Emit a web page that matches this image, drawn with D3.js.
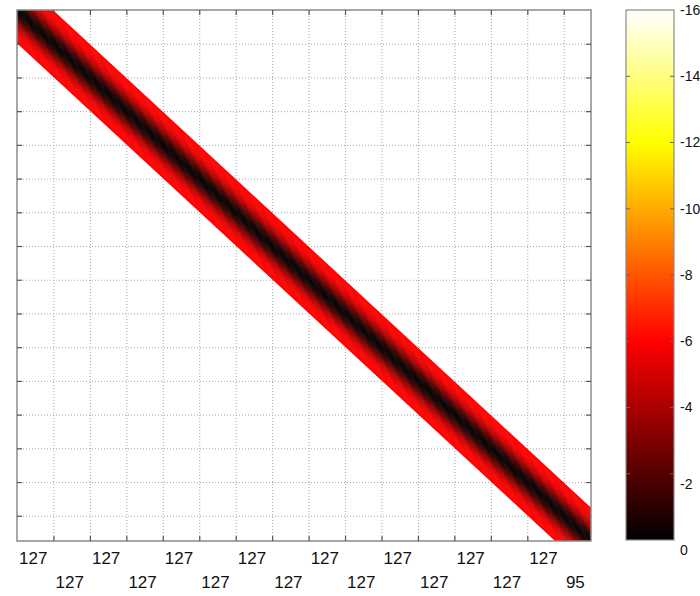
<!DOCTYPE html>
<html>
<head>
<meta charset="utf-8">
<script src="https://cdn.jsdelivr.net/npm/d3@7/dist/d3.min.js"></script>
<style>
  html, body { margin: 0; padding: 0; background: #fff; }
  svg { display: block; }
  text { font-family: "Liberation Sans", Arial, sans-serif; fill: #111; }
</style>
</head>
<body>
<svg id="chart" width="700" height="596"></svg>
<script>
// Block sizes along both matrix axes (the bottom labels show each block's length)
const blockSizes = [127, 127, 127, 127, 127, 127, 127, 127, 127, 127, 127, 127, 127, 127, 127, 95];

// Diagonal band: distance from the diagonal (edges of each strip) and the value in each strip
const bandEdges  = [0, 8, 16, 24, 32, 40, 48, 56, 64, 72, 80, 88, 96, 104, 112, 124];
const bandLevels = [-0.1, -0.4, -0.8, -1.3, -1.9, -2.6, -3.3, -4.0, -4.6, -5.1, -5.5, -5.8, -5.9, -6.0, -6.0];

// Colour bar ticks
const colorTicks = [0, -2, -4, -6, -8, -10, -12, -14, -16];
const colorTickNudge = { "0": 10, "-2": 10 };
const colorDomain = [0, -16];

const svg = d3.select("#chart");

const plot = { left: 17, top: 10, right: 591, bottom: 541 };
const n = d3.sum(blockSizes);

const x = d3.scaleLinear().domain([0, n]).range([plot.left, plot.right]);
const y = d3.scaleLinear().domain([0, n]).range([plot.top, plot.bottom]);

// MATLAB-style "hot" colormap
function hot(t) {
  t = Math.max(0, Math.min(1, t));
  const r = Math.min(1, t / 0.375);
  const g = Math.max(0, Math.min(1, (t - 0.375) / 0.375));
  const b = Math.max(0, Math.min(1, (t - 0.75) / 0.25));
  return d3.rgb(r * 255, g * 255, b * 255).toString();
}
const color = d3.scaleSequential(hot).domain(colorDomain);

// Block boundaries
const bounds = d3.cumsum(blockSizes);
const starts = [0, ...bounds.slice(0, -1)];
const inner = bounds.slice(0, -1);

// Soft edge for the band
const defs = svg.append("defs");
defs.append("clipPath").attr("id", "plotclip")
  .append("rect")
  .attr("x", plot.left).attr("y", plot.top)
  .attr("width", plot.right - plot.left).attr("height", plot.bottom - plot.top);
defs.append("filter").attr("id", "soft")
  .append("feGaussianBlur").attr("stdDeviation", 0.7);

// Dotted grid at block boundaries
const grid = svg.append("g")
  .attr("stroke", "#a8a8a8")
  .attr("stroke-width", 1)
  .attr("stroke-dasharray", "1,2");
grid.selectAll("line.v").data(inner).join("line")
  .attr("class", "v")
  .attr("x1", d => x(d) + 0.5).attr("x2", d => x(d) + 0.5)
  .attr("y1", plot.top).attr("y2", plot.bottom);
grid.selectAll("line.h").data(inner).join("line")
  .attr("class", "h")
  .attr("y1", d => y(d) + 0.5).attr("y2", d => y(d) + 0.5)
  .attr("x1", plot.left).attr("x2", plot.right);

// Band strips on both sides of the diagonal
const strips = bandLevels.map((v, i) => ({ a: bandEdges[i], b: bandEdges[i + 1], v }));
const band = svg.append("g").attr("clip-path", "url(#plotclip)")
  .append("g").attr("filter", "url(#soft)");
const poly = pts => pts.map(p => [x(p[0]), y(p[1])].join(",")).join(" ");
band.selectAll("polygon.upper").data(strips).join("polygon")
  .attr("class", "upper")
  .attr("points", d => poly([[d.a, 0], [d.b, 0], [n, n - d.b], [n, n - d.a]]))
  .attr("fill", d => color(d.v))
  .attr("stroke", d => color(d.v))
  .attr("stroke-width", 0.6);
band.selectAll("polygon.lower").data(strips).join("polygon")
  .attr("class", "lower")
  .attr("points", d => poly([[0, d.a], [0, d.b], [n - d.b, n], [n - d.a, n]]))
  .attr("fill", d => color(d.v))
  .attr("stroke", d => color(d.v))
  .attr("stroke-width", 0.6);

// Frame
svg.append("rect")
  .attr("x", plot.left).attr("y", plot.top)
  .attr("width", plot.right - plot.left).attr("height", plot.bottom - plot.top)
  .attr("fill", "none").attr("stroke", "#8a8a8a").attr("stroke-width", 1.5);

// Inward tick marks on all four sides
const tk = svg.append("g").attr("stroke", "#555").attr("stroke-width", 1.2);
const tl = 5;
tk.selectAll("line.b").data(inner).join("line").attr("class", "b")
  .attr("x1", d => x(d) + 0.5).attr("x2", d => x(d) + 0.5)
  .attr("y1", plot.bottom).attr("y2", plot.bottom - tl);
tk.selectAll("line.t").data(inner).join("line").attr("class", "t")
  .attr("x1", d => x(d) + 0.5).attr("x2", d => x(d) + 0.5)
  .attr("y1", plot.top).attr("y2", plot.top + tl);
tk.selectAll("line.l").data(inner).join("line").attr("class", "l")
  .attr("y1", d => y(d) + 0.5).attr("y2", d => y(d) + 0.5)
  .attr("x1", plot.left).attr("x2", plot.left + tl);
tk.selectAll("line.r").data(inner).join("line").attr("class", "r")
  .attr("y1", d => y(d) + 0.5).attr("y2", d => y(d) + 0.5)
  .attr("x1", plot.right).attr("x2", plot.right - tl);

// Block size labels, staggered over two rows
svg.append("g").selectAll("text").data(blockSizes).join("text")
  .attr("x", (d, i) => x(starts[i] + d / 2) - 2)
  .attr("y", (d, i) => i % 2 === 0 ? 564 : 588)
  .attr("text-anchor", "middle")
  .attr("font-size", 17)
  .text(d => d);

// Colour bar
const cb = { left: 626, right: 674, top: 10, bottom: 540 };
const cy = d3.scaleLinear().domain(colorDomain).range([cb.bottom, cb.top]);
const grad = defs.append("linearGradient").attr("id", "hotbar")
  .attr("x1", 0).attr("y1", 1).attr("x2", 0).attr("y2", 0);
grad.selectAll("stop").data(d3.range(0, 1.0001, 1 / 64)).join("stop")
  .attr("offset", d => d)
  .attr("stop-color", d => hot(d));
svg.append("rect")
  .attr("x", cb.left).attr("y", cb.top)
  .attr("width", cb.right - cb.left).attr("height", cb.bottom - cb.top)
  .attr("fill", "url(#hotbar)")
  .attr("stroke", "#8a8a8a").attr("stroke-width", 1.2);
const cbt = svg.append("g").attr("stroke", "#666").attr("stroke-width", 1);
const mid = colorTicks.filter(v => v !== 0 && v !== -16);
cbt.selectAll("line.cl").data(mid).join("line").attr("class", "cl")
  .attr("x1", cb.left).attr("x2", cb.left + 4)
  .attr("y1", d => cy(d)).attr("y2", d => cy(d));
cbt.selectAll("line.cr").data(mid).join("line").attr("class", "cr")
  .attr("x1", cb.right).attr("x2", cb.right - 4)
  .attr("y1", d => cy(d)).attr("y2", d => cy(d));
svg.append("g").selectAll("text").data(colorTicks).join("text")
  .attr("x", 680)
  .attr("y", d => cy(d) + (colorTickNudge[String(d)] || 0))
  .attr("dy", "0.35em")
  .attr("font-size", 14)
  .text(d => d);
</script>
</body>
</html>
